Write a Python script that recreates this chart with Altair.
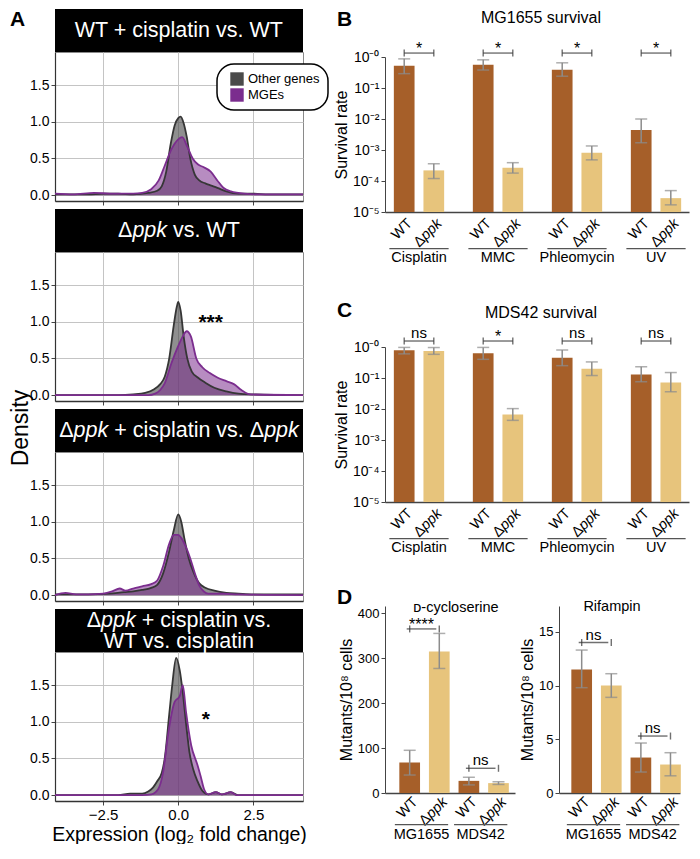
import altair as alt
import pandas as pd

FONT = "Liberation Sans"
GREY_FILL = "#4a4a4a"
GREY_LINE = "#363636"
PURPLE = "#7b2d8e"
WT_COLOR = "#a65f29"
KO_COLOR = "#e7c47c"
ERR = "#8c8c8c"
AXIS = "#444444"
BRK = "#333333"
GRID = "#c4c4c4"

# ------------------------------------------------------------------ panel A data
SERIES = ["Other genes", "MGEs"]
A_X_DOMAIN = [-4.1, 4.15]
A_Y_DOMAIN = [-0.08, 1.95]
A_X_TICKS = [-2.5, 0.0, 2.5]
A_Y_TICKS = [0.0, 0.5, 1.0, 1.5]
A_X_TITLE = "Expression (log₂ fold change)"
A_Y_TITLE = "Density"

A_HEADERS = [
    [[("WT + cisplatin vs. WT", False)]],
    [[("Δ", False), ("ppk", True), (" vs. WT", False)]],
    [[("Δ", False), ("ppk", True), (" + cisplatin vs. Δ", False), ("ppk", True)]],
    [[("Δ", False), ("ppk", True), (" + cisplatin vs.", False)], [("WT vs. cisplatin", False)]],
]

p1_other_x = [-4.1, -3.0, -2.5, -2.0, -1.5, -1.0, -0.7, -0.55, -0.4, -0.25, -0.12, 0.0, 0.08, 0.18, 0.28, 0.4, 0.55, 0.7, 0.9, 1.1, 1.3, 1.6, 2.0, 2.5, 3.0, 4.15]
p1_other_y = [0.01, 0.01, 0.02, 0.02, 0.01, 0.03, 0.06, 0.12, 0.32, 0.7, 0.95, 1.05, 1.07, 0.98, 0.8, 0.5, 0.28, 0.2, 0.16, 0.13, 0.1, 0.05, 0.02, 0.02, 0.01, 0.01]
p1_mge_x = [-4.1, -3.5, -2.8, -2.0, -1.5, -1.2, -0.9, -0.65, -0.45, -0.22, 0.0, 0.13, 0.3, 0.48, 0.65, 0.85, 1.08, 1.3, 1.5, 1.75, 2.2, 2.8, 4.15]
p1_mge_y = [0.02, 0.01, 0.03, 0.02, 0.02, 0.03, 0.08, 0.2, 0.4, 0.63, 0.76, 0.79, 0.66, 0.5, 0.42, 0.38, 0.32, 0.2, 0.1, 0.05, 0.02, 0.01, 0.01]

p2_other_x = [-4.1, -2.0, -1.5, -1.1, -0.8, -0.6, -0.45, -0.3, -0.15, -0.05, 0.0, 0.08, 0.18, 0.3, 0.45, 0.65, 0.9, 1.2, 1.6, 2.0, 2.5, 4.15]
p2_other_y = [0.0, 0.0, 0.01, 0.03, 0.08, 0.15, 0.25, 0.5, 0.95, 1.2, 1.27, 1.15, 0.8, 0.5, 0.32, 0.24, 0.17, 0.1, 0.05, 0.02, 0.01, 0.0]
p2_mge_x = [-4.1, -1.0, -0.77, -0.6, -0.45, -0.23, 0.0, 0.15, 0.28, 0.42, 0.6, 0.8, 1.05, 1.3, 1.6, 1.85, 2.1, 2.4, 4.15]
p2_mge_y = [0.0, 0.0, 0.02, 0.07, 0.16, 0.43, 0.67, 0.8, 0.87, 0.8, 0.5, 0.38, 0.3, 0.24, 0.19, 0.15, 0.07, 0.01, 0.0]

p3_other_x = [-4.1, -3.0, -2.3, -1.8, -1.5, -1.2, -0.9, -0.7, -0.5, -0.3, -0.15, 0.0, 0.1, 0.2, 0.35, 0.5, 0.7, 0.9, 1.2, 1.6, 2.0, 2.5, 4.15]
p3_other_y = [0.01, 0.01, 0.02, 0.04, 0.05, 0.07, 0.1, 0.14, 0.3, 0.6, 0.88, 1.1, 1.0, 0.78, 0.5, 0.32, 0.16, 0.1, 0.06, 0.03, 0.02, 0.01, 0.01]
p3_mge_x = [-4.1, -3.75, -3.4, -3.0, -2.5, -2.2, -1.95, -1.75, -1.5, -1.2, -0.9, -0.7, -0.5, -0.3, -0.15, 0.0, 0.1, 0.25, 0.4, 0.55, 0.7, 0.85, 1.0, 1.5, 2.0, 4.15]
p3_mge_y = [0.0, 0.03, 0.01, 0.01, 0.02, 0.05, 0.09, 0.06, 0.09, 0.12, 0.15, 0.2, 0.4, 0.7, 0.82, 0.82, 0.78, 0.66, 0.5, 0.3, 0.13, 0.05, 0.02, 0.02, 0.01, 0.0]

p4_other_x = [-4.1, -2.0, -1.6, -1.2, -1.0, -0.85, -0.7, -0.55, -0.45, -0.3, -0.2, -0.07, 0.05, 0.15, 0.28, 0.37, 0.5, 0.64, 0.8, 1.0, 1.25, 1.45, 1.75, 2.0, 4.15]
p4_other_y = [0.0, 0.0, 0.02, 0.02, 0.05, 0.1, 0.19, 0.3, 0.5, 1.1, 1.5, 1.87, 1.7, 1.4, 0.9, 0.59, 0.35, 0.19, 0.06, 0.01, 0.04, 0.01, 0.04, 0.0, 0.0]
p4_mge_x = [-4.1, -1.2, -0.9, -0.67, -0.5, -0.34, -0.12, 0.05, 0.15, 0.26, 0.43, 0.64, 0.75, 0.86, 1.0, 1.25, 1.45, 1.75, 1.95, 4.15]
p4_mge_y = [0.0, 0.0, 0.01, 0.08, 0.32, 0.82, 1.27, 1.35, 1.5, 1.13, 0.68, 0.41, 0.25, 0.08, 0.01, 0.04, 0.01, 0.04, 0.0, 0.0]

A_CURVES = [
    (p1_other_x, p1_other_y, p1_mge_x, p1_mge_y),
    (p2_other_x, p2_other_y, p2_mge_x, p2_mge_y),
    (p3_other_x, p3_other_y, p3_mge_x, p3_mge_y),
    (p4_other_x, p4_other_y, p4_mge_x, p4_mge_y),
]
A_STAR_TEXT = ["", "***", "", "*"]
A_STAR_X = [0.0, 1.08, 0.0, 0.92]
A_STAR_Y = [0.0, 1.045, 0.0, 1.096]

# ------------------------------------------------------------------ panel B / C data
STRAINS = ["WT", "Δppk"]
TREATMENTS = ["Cisplatin", "MMC", "Phleomycin", "UV"]
LOG_TICKS = [1e-5, 1e-4, 1e-3, 1e-2, 1e-1, 1.0]
LOG_TICK_LABELS = ["10⁻⁰", "10⁻¹", "10⁻²", "10⁻³", "10⁻⁴", "10⁻⁵"]

B_TITLE = "MG1655 survival"
B_wt = [0.52, 0.56, 0.39, 4.4e-3]
B_wt_lo = [0.29, 0.38, 0.24, 1.7e-3]
B_wt_hi = [0.87, 0.81, 0.65, 1.0e-2]
B_ko = [2.2e-4, 2.7e-4, 8.1e-4, 2.8e-5]
B_ko_lo = [1.2e-4, 1.8e-4, 4.8e-4, 1.7e-5]
B_ko_hi = [3.6e-4, 3.9e-4, 1.35e-3, 4.9e-5]
B_sig = ["*", "*", "*", "*"]
B_bracket = [1.34, 1.34, 1.34, 1.34]

C_TITLE = "MDS42 survival"
C_wt = [0.79, 0.63, 0.45, 0.13]
C_wt_lo = [0.6, 0.4, 0.25, 0.076]
C_wt_hi = [0.97, 0.97, 0.8, 0.23]
C_ko = [0.74, 6.6e-3, 0.2, 0.072]
C_ko_lo = [0.58, 4.3e-3, 0.12, 0.036]
C_ko_hi = [0.96, 1.03e-2, 0.33, 0.15]
C_sig = ["ns", "*", "ns", "ns"]
C_bracket = [1.56, 1.56, 1.56, 1.56]

# ------------------------------------------------------------------ panel D data
STRAIN_BG = ["MG1655", "MDS42"]
D_Y_TITLE = "Mutants/10⁸ cells"
D1_TITLE = "ᴅ-cycloserine"
D1_ticks = [0, 100, 200, 300, 400]
D1_wt = [68, 27]
D1_wt_lo = [40, 18]
D1_wt_hi = [95, 35]
D1_ko = [315, 22]
D1_ko_lo = [277, 19]
D1_ko_hi = [355, 25]
D1_sig = ["****", "ns"]
D1_bracket = [365, 55]

D2_TITLE = "Rifampin"
D2_ticks = [0, 5, 10, 15]
D2_wt = [11.5, 3.3]
D2_wt_lo = [9.8, 1.95]
D2_wt_hi = [13.3, 4.65]
D2_ko = [10.0, 2.65]
D2_ko_lo = [8.9, 1.6]
D2_ko_hi = [11.1, 3.75]
D2_sig = ["ns", "ns"]
D2_bracket = [14.0, 5.3]

# ------------------------------------------------------------------ helpers
ONE = pd.DataFrame({"k": [0]})

CW = {'A': .667, 'B': .667, 'C': .722, 'D': .722, 'E': .667, 'G': .778, 'M': .833, 'O': .778,
      'S': .667, 'T': .611, 'W': .944, 'a': .556, 'c': .5, 'e': .556, 'g': .556, 'h': .556,
      'i': .222, 'k': .5, 'l': .222, 'n': .556, 'o': .556, 'p': .556, 'r': .333, 's': .5,
      't': .278, 'v': .5, ' ': .278, '.': .278, '+': .584, 'Δ': .667, '-': .333}


def tw(s, size):
    return sum(CW.get(ch, 0.556) for ch in s) * size


def txt(text, x, y, size, weight="normal", align="center", baseline="middle",
        style="normal", color="black", angle=0):
    return alt.Chart(ONE).mark_text(
        text=text, fontSize=size, fontWeight=weight, align=align, baseline=baseline,
        fontStyle=style, color=color, font=FONT, angle=angle
    ).encode(x=alt.value(x), y=alt.value(y))


A_W, A_H, HDR, HFS = 248, 149, 43, 21.5


def header_layers(lines):
    layers = [alt.Chart(ONE).mark_rect(color="black").encode(
        x=alt.value(0), x2=alt.value(A_W), y=alt.value(-HDR), y2=alt.value(0))]
    ys = [-HDR / 2] if len(lines) == 1 else [-HDR + 12, -HDR + 32.5]
    for segs, yy in zip(lines, ys):
        total = sum(tw(t, HFS) for t, _ in segs)
        x0 = A_W / 2 - total / 2
        for t, it in segs:
            lead = len(t) - len(t.lstrip(" "))
            layers.append(txt(t.strip(" "), x0 + lead * CW[' '] * HFS, yy, HFS,
                              align="left", style="italic" if it else "normal", color="white"))
            x0 += tw(t, HFS)
    return layers


def density_panel(i):
    ox, oy, mx, my = A_CURVES[i]
    rows = [{"x": a, "d": b, "series": SERIES[0]} for a, b in zip(ox, oy)]
    rows += [{"x": a, "d": b, "series": SERIES[1]} for a, b in zip(mx, my)]
    df = pd.DataFrame(rows)
    last = i == 3
    xaxis = alt.Axis(values=A_X_TICKS, format=".1f", grid=True, gridColor=GRID, labels=last,
                     title=A_X_TITLE if last else None, tickSize=4, tickColor=AXIS,
                     domainColor="#333333", domainWidth=1.6, labelFontSize=15, labelPadding=2,
                     titleFontSize=19.5, titleFontWeight="normal", titlePadding=3,
                     labelColor="black", titleColor="black")
    yaxis = alt.Axis(values=A_Y_TICKS, format=".1f", grid=True, gridColor=GRID, title=None,
                     labelFontSize=14, tickSize=4, tickColor=AXIS, domainColor="#333333",
                     domainWidth=1.2, labelPadding=2, labelColor="black")
    if i == 0:
        legend = alt.Legend(title=None, orient="none", legendX=162, legendY=12)
    else:
        legend = None
    xs = alt.X("x:Q", scale=alt.Scale(domain=A_X_DOMAIN, nice=False, zero=False), axis=xaxis)
    ys = alt.Y("d:Q", scale=alt.Scale(domain=A_Y_DOMAIN, nice=False, zero=False), axis=yaxis)
    area = alt.Chart(df).mark_area(interpolate="monotone").encode(
        x=xs, y=ys, y2=alt.datum(0),
        color=alt.Color("series:N", scale=alt.Scale(domain=SERIES, range=[GREY_FILL, PURPLE]), legend=legend),
        fillOpacity=alt.FillOpacity("series:N", scale=alt.Scale(domain=SERIES, range=[0.62, 0.55]), legend=None),
    )
    line = alt.Chart(df).mark_line(interpolate="monotone", strokeWidth=1.8).encode(
        x=xs, y=ys,
        stroke=alt.Stroke("series:N", scale=alt.Scale(domain=SERIES, range=[GREY_LINE, PURPLE]), legend=None),
    )
    layers = header_layers(A_HEADERS[i]) + [area, line]
    if A_STAR_TEXT[i]:
        sdf = pd.DataFrame({"x": [A_STAR_X[i]], "d": [A_STAR_Y[i]], "t": [A_STAR_TEXT[i]]})
        layers.append(alt.Chart(sdf).mark_text(fontSize=21, fontWeight="bold", font=FONT, dy=5)
                      .encode(x=xs, y=ys, text="t:N"))
    if i == 0:
        layers.append(txt("A", -45, -43, 21, weight="bold", align="left", baseline="top"))
    if i == 2:
        layers.append(txt(A_Y_TITLE, -34.5, -24, 23, angle=270))
    return alt.layer(*layers).properties(
        width=A_W, height=A_H, view=alt.ViewBackground(stroke="#8a8a8a", strokeWidth=1))


OFF_STEP = 29.6


def bar_panel(groups, wt, wt_lo, wt_hi, ko, ko_lo, ko_hi, sig, bracket, W, H, step,
              first_center, bar_w, y_enc_scale, y_axis, base, lab_y, line_y, name_pad, extras):
    rows = []
    for i, g in enumerate(groups):
        for s, v, lo, hi in ((STRAINS[0], wt[i], wt_lo[i], wt_hi[i]),
                             (STRAINS[1], ko[i], ko_lo[i], ko_hi[i])):
            rows.append({"group": g, "strain": s, "value": v, "lo": lo, "hi": hi,
                         "base": base, "bracket": bracket[i], "sig": sig[i]})
    df = pd.DataFrame(rows)
    n = len(groups)
    pi = 0.25 if n == 4 else 0.1
    po = (W / step - n + pi) / 2
    band = step * (1 - pi)
    align = (first_center - band / 2) / (W - step * (n - pi))
    off_pi = 1 - bar_w / OFF_STEP
    off_po = (band / OFF_STEP - 2 + off_pi) / 2
    x = alt.X("group:N", sort=groups,
              scale=alt.Scale(domain=groups, paddingInner=pi, paddingOuter=po, align=align),
              axis=alt.Axis(title=None, labelAngle=0, ticks=False, tickSize=0, labelPadding=name_pad,
                            labelFontSize=14.5, labelColor="black", domainColor=AXIS, domainWidth=1.5))
    xo = alt.XOffset("strain:N", sort=STRAINS,
                     scale=alt.Scale(domain=STRAINS, paddingInner=off_pi, paddingOuter=off_po))
    y = alt.Y("value:Q", scale=y_enc_scale, axis=y_axis)
    b = alt.Chart(df)
    is_wt = alt.datum.strain == STRAINS[0]
    is_ko = alt.datum.strain == STRAINS[1]
    bars = b.mark_bar().encode(
        x=x, xOffset=xo, y=y, y2="base:Q",
        color=alt.Color("strain:N", scale=alt.Scale(domain=STRAINS, range=[WT_COLOR, KO_COLOR]), legend=None))
    err = b.mark_rule(color=ERR, strokeWidth=1.5).encode(x=x, xOffset=xo, y="lo:Q", y2="hi:Q")
    cap_hi = b.mark_tick(color=ERR, thickness=1.5, size=12, orient="horizontal").encode(x=x, xOffset=xo, y="hi:Q")
    cap_lo = b.mark_tick(color=ERR, thickness=1.5, size=12, orient="horizontal").encode(x=x, xOffset=xo, y="lo:Q")
    brk = b.transform_filter(is_wt).mark_tick(color=BRK, thickness=1.4, size=OFF_STEP, orient="horizontal").encode(x=x, y="bracket:Q")
    brk_caps = b.mark_tick(color=BRK, thickness=1.4, size=7, orient="vertical").encode(x=x, xOffset=xo, y="bracket:Q")
    sig_ns = b.transform_filter(is_wt).transform_filter(alt.datum.sig == "ns").mark_text(
        fontSize=15, baseline="alphabetic", dy=-3, font=FONT).encode(x=x, y="bracket:Q", text="sig:N")
    sig_st = b.transform_filter(is_wt).transform_filter(alt.datum.sig != "ns").mark_text(
        fontSize=16, baseline="alphabetic", dy=1, font=FONT).encode(x=x, y="bracket:Q", text="sig:N")
    lab_fs = 14.5
    ppk_w = tw("ppk", lab_fs)
    lab_wt = b.transform_filter(is_wt).mark_text(
        text="WT", angle=315, align="right", baseline="middle", fontSize=lab_fs, dx=4.2, dy=4.2, font=FONT
    ).encode(x=x, xOffset=xo, y=alt.value(H + lab_y))
    lab_ppk = b.transform_filter(is_ko).mark_text(
        text="ppk", angle=315, align="right", baseline="middle", fontSize=lab_fs, dx=4.2, dy=4.2,
        fontStyle="italic", font=FONT
    ).encode(x=x, xOffset=xo, y=alt.value(H + lab_y))
    lab_d = b.transform_filter(is_ko).mark_text(
        text="Δ", angle=315, align="right", baseline="middle", fontSize=lab_fs, dx=4.2 - ppk_w, dy=4.2, font=FONT
    ).encode(x=x, xOffset=xo, y=alt.value(H + lab_y))
    under = b.transform_filter(is_wt).mark_rect(color="#555555").encode(
        x=x, y=alt.value(H + line_y), y2=alt.value(H + line_y + 1.2))
    return alt.layer(bars, err, cap_hi, cap_lo, brk, brk_caps, sig_ns, sig_st,
                     lab_wt, lab_ppk, lab_d, under, *extras).properties(width=W, height=H)


def log_axis():
    arr = "[" + ",".join("'%s'" % s for s in LOG_TICK_LABELS) + "]"
    return alt.Axis(values=LOG_TICKS, labelExpr=arr + "[round(-log(datum.value)/LN10)]",
                    title="Survival rate", titleFontSize=16, titleFontWeight="normal", titlePadding=3,
                    labelFontSize=14, tickSize=4, grid=False, domainColor=AXIS, tickColor=AXIS,
                    labelColor="black", titleColor="black", labelPadding=2)


def lin_axis(vals):
    return alt.Axis(values=vals, format="d", title=D_Y_TITLE, titleFontSize=16, titleFontWeight="normal",
                    titlePadding=3, labelFontSize=13, tickSize=4, grid=False, domainColor=AXIS,
                    tickColor=AXIS, labelColor="black", titleColor="black", labelPadding=2)


BW, BH = 304, 155
chart_B = bar_panel(TREATMENTS, B_wt, B_wt_lo, B_wt_hi, B_ko, B_ko_lo, B_ko_hi, B_sig, B_bracket,
                    BW, BH, 79, 34, 20.7, alt.Scale(type="log", domain=[1e-5, 1], nice=False), log_axis(),
                    1e-5, 9.5, 36, 38,
                    [txt("B", -48, -48, 21, weight="bold", align="left", baseline="top"),
                     txt(B_TITLE, BW / 2 + 4, -39, 16)])
chart_C = bar_panel(TREATMENTS, C_wt, C_wt_lo, C_wt_hi, C_ko, C_ko_lo, C_ko_hi, C_sig, C_bracket,
                    BW, BH, 79, 34, 20.7, alt.Scale(type="log", domain=[1e-5, 1], nice=False), log_axis(),
                    1e-5, 9.5, 36, 38,
                    [txt("C", -48, -47, 21, weight="bold", align="left", baseline="top"),
                     txt(C_TITLE, BW / 2 + 4, -34, 16)])
DH = 187
chart_D1 = bar_panel(STRAIN_BG, D1_wt, D1_wt_lo, D1_wt_hi, D1_ko, D1_ko_lo, D1_ko_hi, D1_sig, D1_bracket,
                     130, DH, 59.2, 36.5, 20, alt.Scale(domain=[0, 416], nice=False), lin_axis(D1_ticks),
                     0, 7, 31, 34,
                     [txt("D", -48, -19, 21, weight="bold", align="left", baseline="top"),
                      txt(D1_TITLE, 71, 2, 14.5)])
chart_D2 = bar_panel(STRAIN_BG, D2_wt, D2_wt_lo, D2_wt_hi, D2_ko, D2_ko_lo, D2_ko_hi, D2_sig, D2_bracket,
                     121, DH, 59.2, 34.5, 20, alt.Scale(domain=[0, 17.4], nice=False), lin_axis(D2_ticks),
                     0, 7, 31, 34,
                     [txt(D2_TITLE, 53, 1, 14.5)])

spacer = alt.Chart(ONE).mark_point(opacity=0).encode(
    x=alt.value(0), y=alt.value(0)).properties(width=BW, height=1)

left = alt.vconcat(*[density_panel(i) for i in range(4)], spacing=51, bounds="flush").resolve_legend(color="independent")
d_row = alt.hconcat(chart_D1, chart_D2, spacing=44, bounds="flush")
top_right = alt.vconcat(spacer, chart_B, spacing=4, bounds="flush")
right = alt.vconcat(alt.vconcat(top_right, chart_C, spacing=35), d_row, spacing=32)

chart = alt.hconcat(left, right, spacing=2).resolve_scale(
    color="independent").properties(padding=0).configure(font=FONT).configure_view(
    stroke="transparent").configure_legend(
    symbolType="square", symbolSize=180, symbolStrokeWidth=0, symbolOpacity=1, labelFontSize=13,
    labelColor="black", strokeColor="black", strokeWidth=1.5, cornerRadius=17, padding=8,
    fillColor="white", rowPadding=2, labelOffset=4, symbolOffset=5)

chart.save("out.html", embed_options={"renderer": "svg", "actions": False})
